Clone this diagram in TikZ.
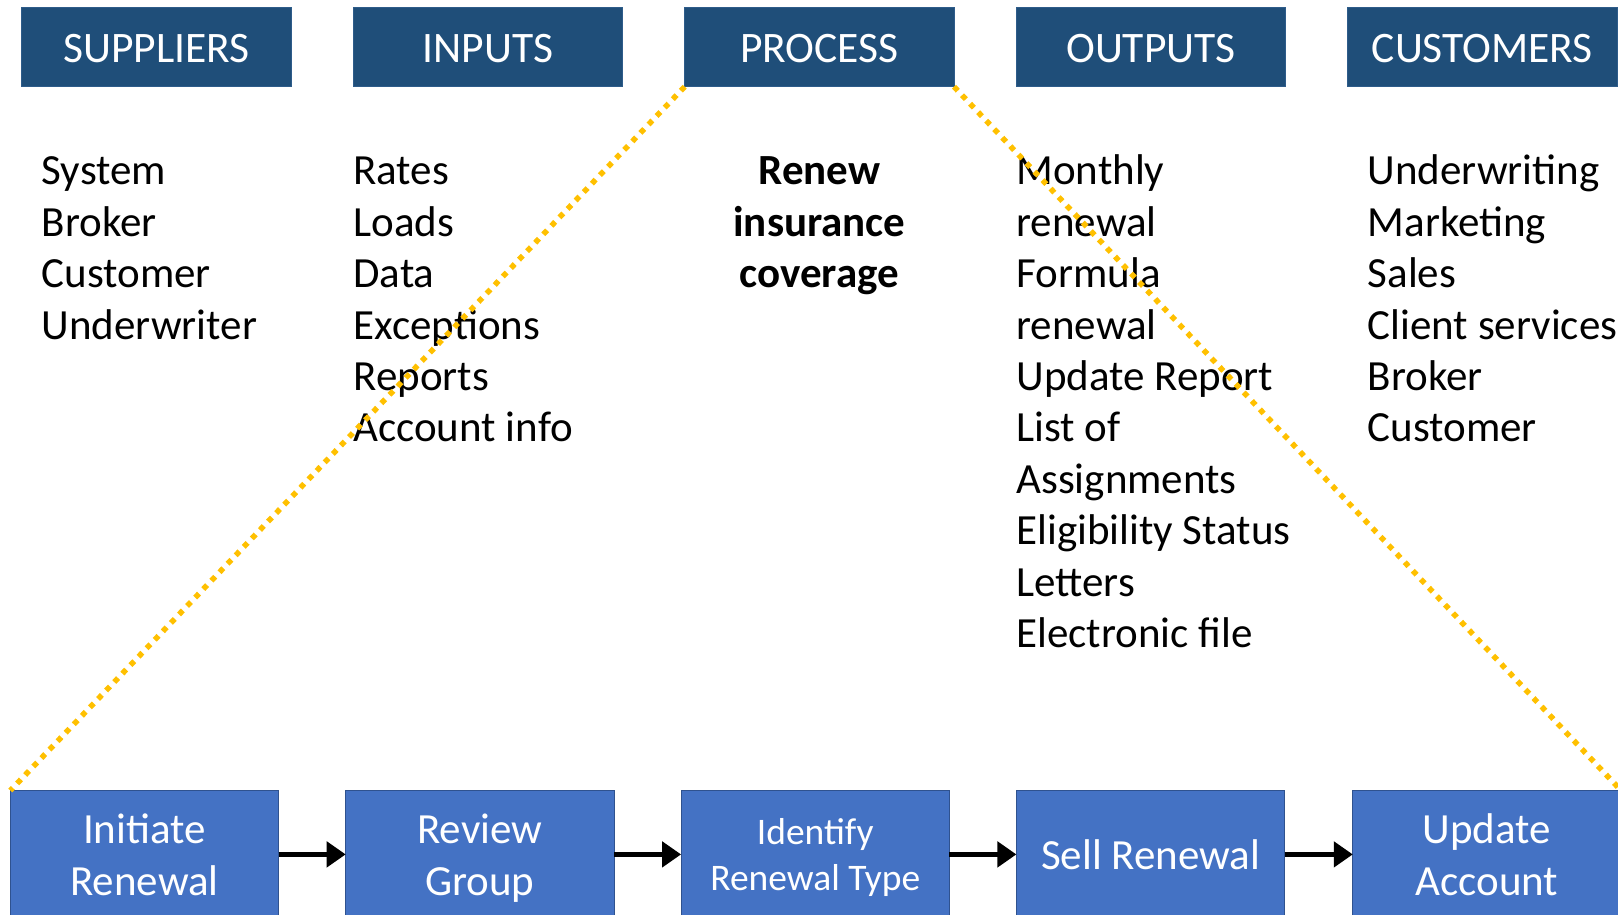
\documentclass[tikz,border=0pt]{standalone}
\usepackage{fontspec}
\setmainfont{Carlito}
\usetikzlibrary{arrows.meta}

\definecolor{hdrblue}{HTML}{1F4E79}
\definecolor{hdredge}{HTML}{2E5C8A}
\definecolor{stepblue}{HTML}{4472C4}
\definecolor{stepedge}{HTML}{2F528F}
\definecolor{zoomgold}{HTML}{FFC000}

\tikzset{
	hdr/.style={fill=hdrblue, draw=hdredge, line width=0.8pt, text=white, anchor=north west,
		inner sep=0pt, outer sep=0pt, minimum width=269.3pt, minimum height=79.5pt,
		text height=31.5pt, text depth=0pt, font=\fontsize{43.5}{51.1}\selectfont},
	% lists are placed by the baseline of their last line
	listtext/.style={inner sep=0pt, align=left, anchor=base west,
		font=\fontsize{43}{51.4}\selectfont},
	stepbox/.style={fill=stepblue, draw=stepedge, line width=1pt, text=white, anchor=north west,
		inner sep=0pt, outer sep=0pt, minimum width=268.3pt, minimum height=127.8pt,
		text depth=0pt, align=center, font=\fontsize{43}{51.6}\selectfont},
	flowarrow/.style={line width=5pt, -{Triangle[length=19pt,width=25pt]}},
	zoomdots/.style={zoomgold, line width=5.5pt, dash pattern=on 5.5pt off 6.2pt}
}

\begin{document}
\begin{tikzpicture}[x=1pt,y=-1pt]
			%%%%% START %%%%%
			\useasboundingbox (0,0) rectangle (1618,914);
			\clip (0,0) rectangle (1618,914);
			
			% column heads
			\node[hdr] (suppliers) at (21.7,7.2) {SUPPLIERS};
			\node[hdr] (inputs) at (353.2,7.2) {INPUTS};
			\node[hdr] (process) at (684.7,7.2) {PROCESS};
			\node[hdr] (outputs) at (1016.2,7.2) {OUTPUTS};
			\node[hdr] (customers) at (1347.7,7.2) {CUSTOMERS};
			
			% column contents
			\node[listtext] (supplierlist) at (41.5,339) {System\\Broker\\Customer\\Underwriter};
			\node[listtext] (inputlist) at (353.2,441.8) {Rates\\Loads\\Data\\Exceptions\\Reports\\Account info};
			\node[listtext, align=center, anchor=base, font=\fontsize{43}{51.4}\selectfont\bfseries] (processname) at (819.4,287.6) {Renew\\insurance\\coverage};
			\node[listtext] (outputlist) at (1016.2,647.4) {Monthly\\renewal\\Formula\\renewal\\Update Report\\List of\\Assignments\\Eligibility Status\\Letters\\Electronic file};
			\node[listtext] (customerlist) at (1367.5,441.8) {Underwriting\\Marketing\\Sales\\Client services\\Broker\\Customer};
			
			% process steps
			\node[stepbox] (initiate) at (10.3,790.5) {Initiate\\Renewal};
			\node[stepbox] (review) at (345.7,790.5) {Review\\Group};
			\node[stepbox, font=\fontsize{37.5}{46.4}\selectfont] (identify) at (681.1,790.5) {Identify\\Renewal Type};
			\node[stepbox] (sell) at (1016.4,790.5) {Sell Renewal};
			\node[stepbox] (update) at (1352.8,790.5) {Update\\Account};
			
			\draw[flowarrow] (initiate) -- (review);
			\draw[flowarrow] (review) -- (identify);
			\draw[flowarrow] (identify) -- (sell);
			\draw[flowarrow] (sell) -- (update);
			
			% zoom lines from the process head down to the steps
			\draw[zoomdots] (process.south west) -- (initiate.north west);
			\draw[zoomdots] (process.south east) -- (update.north east);
			
			%%%%% END %%%%%
\end{tikzpicture}
\end{document}
